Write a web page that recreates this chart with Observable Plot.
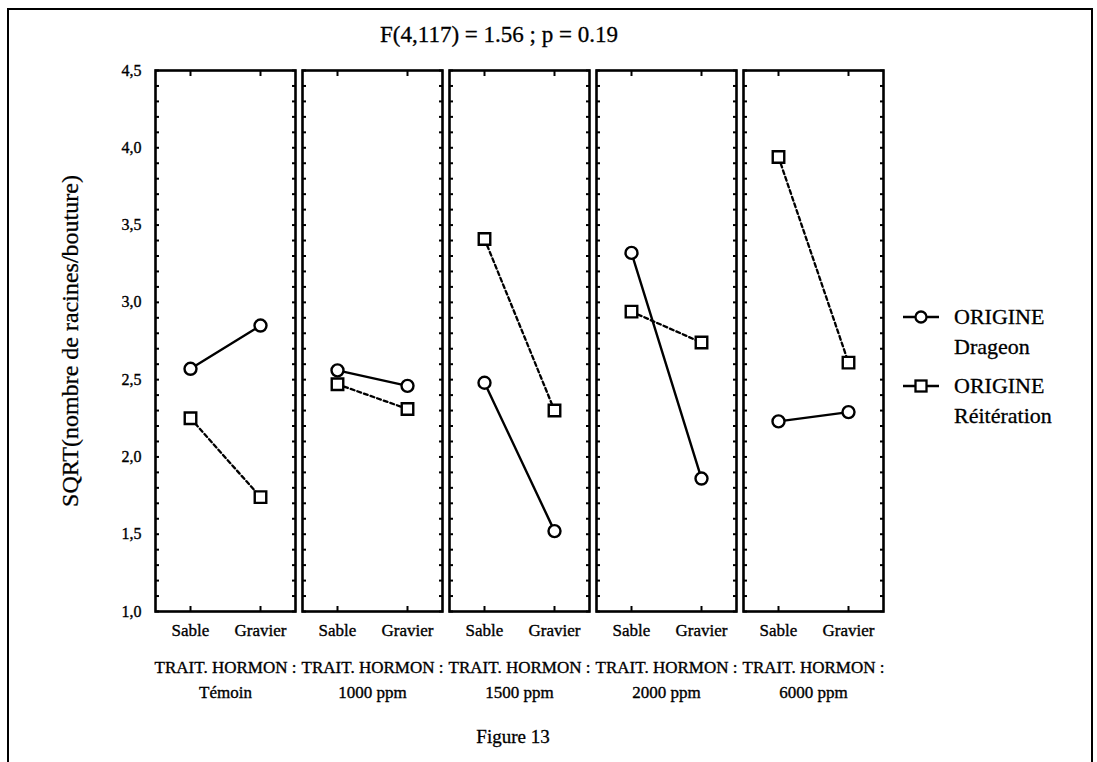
<!DOCTYPE html>
<html>
<head>
<meta charset="utf-8">
<script src="https://cdn.jsdelivr.net/npm/d3@7"></script>
<script src="https://cdn.jsdelivr.net/npm/@observablehq/plot@0.6"></script>
<style>
  html, body { margin: 0; padding: 0; background: #fff; }
  body { font-family: "Liberation Serif", "Times New Roman", serif; color: #000; -webkit-text-stroke: 0.3px #000; }
  #wrap { position: relative; width: 1097px; height: 762px; overflow: hidden; }
  #border { position: absolute; left: 7px; top: 8px; width: 1082px; height: 800px;
            border: 2px solid #000; }
  .abs { position: absolute; white-space: nowrap; }
  #title { left: 499px; top: 35px; transform: translate(-50%, -50%); font-size: 23px; }
  #ylabel { left: 70px; top: 341px; transform: translate(-50%, -50%) rotate(-90deg); font-size: 24px; }
  #caption { left: 513px; top: 737px; transform: translate(-50%, -50%); font-size: 19px; }
  .leg { position: absolute; left: 902px; font-size: 22px; line-height: 30px; }
  .leg svg { position: absolute; left: 0; top: 0; }
  .leg div { margin-left: 52px; }
  #chart { position: absolute; left: 0; top: 0; }
  #chart text { stroke: #000; stroke-width: 0.35px; }
</style>
</head>
<body>
<div id="wrap">
  <div id="border"></div>
  <div id="chart"></div>
  <div id="title" class="abs">F(4,117) = 1.56 ; p = 0.19</div>
  <div id="ylabel" class="abs">SQRT(nombre de racines/bouture)</div>
  <div id="caption" class="abs">Figure 13</div>
  <div id="legend"></div>
</div>
<script>
// ---- data ----
const hormones = ["Témoin", "1000 ppm", "1500 ppm", "2000 ppm", "6000 ppm"];
const substrates = ["Sable", "Gravier"];
const origines = ["Drageon", "Réitération"];
const drageonSable   = [2.57, 2.56, 2.48, 3.32, 2.23];
const drageonGravier = [2.85, 2.46, 1.52, 1.86, 2.29];
const reitSable      = [2.25, 2.47, 3.41, 2.94, 3.94];
const reitGravier    = [1.74, 2.31, 2.30, 2.74, 2.61];
const yTicks = [1.0, 1.5, 2.0, 2.5, 3.0, 3.5, 4.0, 4.5];
const yMinorTicks = d3.range(10, 46).map(d => d / 10);
const title = "F(4,117) = 1.56 ; p = 0.19";
const yLabel = "SQRT(nombre de racines/bouture)";
const facetPrefix = "TRAIT. HORMON :";

// ---- table ----
const rows = [];
hormones.forEach((h, i) => {
  rows.push({hormone: h, substrate: "Sable", origine: "Drageon", value: drageonSable[i]});
  rows.push({hormone: h, substrate: "Gravier", origine: "Drageon", value: drageonGravier[i]});
  rows.push({hormone: h, substrate: "Sable", origine: "Réitération", value: reitSable[i]});
  rows.push({hormone: h, substrate: "Gravier", origine: "Réitération", value: reitGravier[i]});
});
const drag = rows.filter(d => d.origine === "Drageon");
const reit = rows.filter(d => d.origine === "Réitération");

const font = '"Liberation Serif", "Times New Roman", serif';

const chart = Plot.plot({
  width: 1097,
  height: 762,
  marginLeft: 154,
  marginRight: 214,
  marginTop: 70,
  marginBottom: 151,
  style: {fontFamily: font, fontSize: "15px", color: "#000", background: "transparent", overflow: "visible"},
  fx: {domain: hormones, paddingInner: 0.05, paddingOuter: 0, axis: null},
  x: {type: "point", domain: substrates, padding: 0.5, axis: null},
  y: {domain: [1, 4.5], axis: null},
  marks: [
    // inward minor ticks, left and right of each panel
    Plot.axisY({anchor: "left", ticks: yMinorTicks, tickSize: -4, strokeWidth: 2, tickFormat: () => "", label: null, facetAnchor: null}),
    Plot.axisY({anchor: "right", ticks: yMinorTicks, tickSize: -4, strokeWidth: 2, tickFormat: () => "", label: null, facetAnchor: null}),
    // inward ticks at category positions, top and bottom
    Plot.axisX({anchor: "bottom", tickSize: -5, strokeWidth: 2, tickFormat: () => "", label: null, facetAnchor: null}),
    Plot.axisX({anchor: "top", tickSize: -5, strokeWidth: 2, tickFormat: () => "", label: null, facetAnchor: null}),
    // y tick labels
    Plot.axisY({anchor: "left", ticks: yTicks, tickSize: 0, tickPadding: 14, fontSize: 16,
      tickFormat: d => d.toFixed(1).replace(".", ","), label: null}),
    // x labels
    Plot.axisX({anchor: "bottom", tickSize: 0, tickPadding: 12, fontSize: 17, label: null, facetAnchor: null}),
    // facet labels
    Plot.axisFx({anchor: "bottom", tickSize: 0, tickPadding: 43, fontSize: 17, lineHeight: 1.5,
      tickFormat: d => facetPrefix + "\n" + d, label: null}),
    Plot.frame({stroke: "#000", strokeWidth: 2.6}),
    Plot.line(drag, {fx: "hormone", x: "substrate", y: "value", stroke: "#000", strokeWidth: 2.4}),
    Plot.line(reit, {fx: "hormone", x: "substrate", y: "value", stroke: "#000", strokeWidth: 2.3, strokeDasharray: "4,3"}),
    Plot.dot(drag, {fx: "hormone", x: "substrate", y: "value", r: 6, fill: "#fff", stroke: "#000", strokeWidth: 2.4}),
    Plot.dot(reit, {fx: "hormone", x: "substrate", y: "value", symbol: "square", r: 6.5, fill: "#fff", stroke: "#000", strokeWidth: 2.4})
  ]
});
document.getElementById("chart").appendChild(chart);

// ---- legend ----
const legend = document.getElementById("legend");
const legTops = [302, 371];
origines.forEach((o, i) => {
  const div = document.createElement("div");
  div.className = "leg";
  div.style.top = legTops[i] + "px";
  const sym = i === 0
    ? '<circle cx="19" cy="15" r="5.5" fill="#fff" stroke="#000" stroke-width="2.3"/>'
    : '<rect x="13.5" y="9.5" width="11" height="11" fill="#fff" stroke="#000" stroke-width="2.3"/>';
  div.innerHTML = '<svg width="40" height="30"><line x1="1" x2="37" y1="15" y2="15" stroke="#000" stroke-width="2.3"/>' + sym + '</svg>'
    + '<div>ORIGINE<br>' + o + '</div>';
  legend.appendChild(div);
});
</script>
</body>
</html>
